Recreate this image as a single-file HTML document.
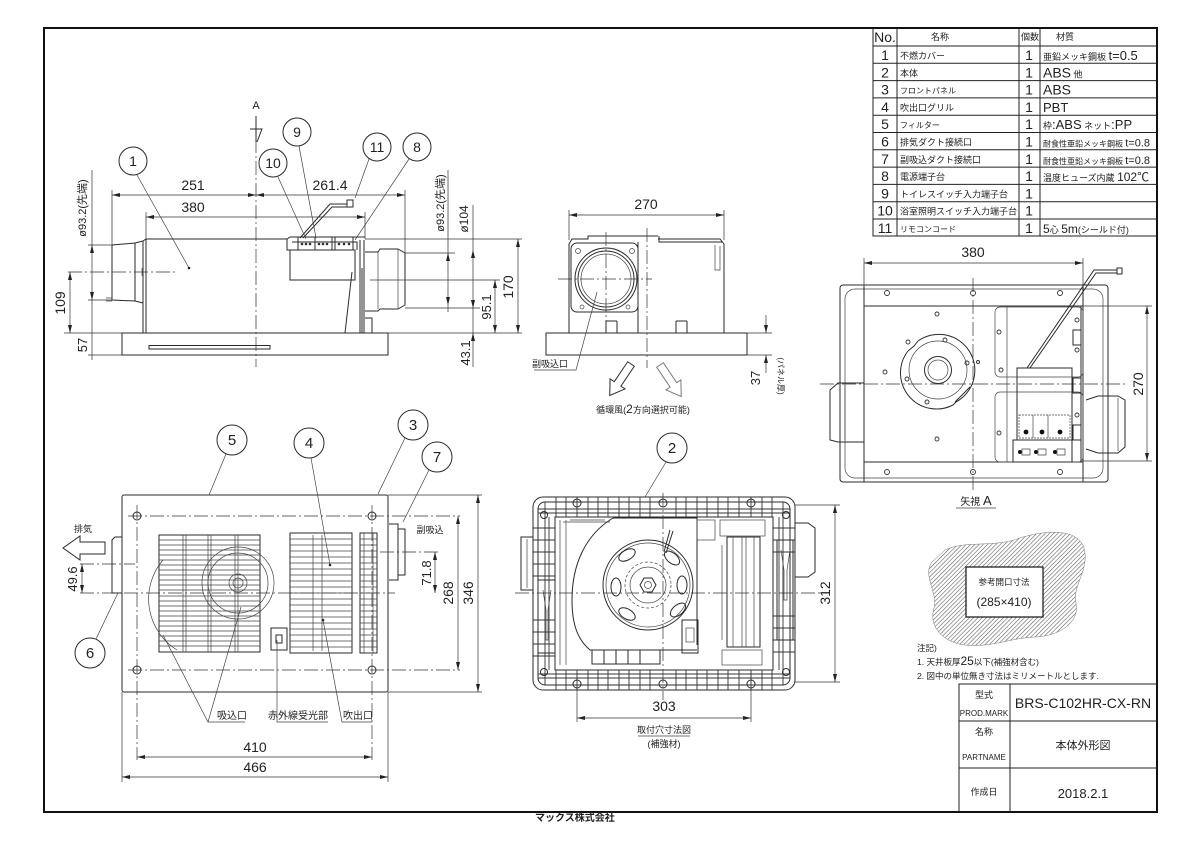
<!DOCTYPE html>
<html><head><meta charset="utf-8"><style>
html,body{margin:0;padding:0;background:#fff;}
svg{display:block;}
text{font-family:"Liberation Sans","Noto Sans CJK JP",sans-serif;fill:#222;}
.l{fill:none;stroke:#2a2a2a;stroke-width:1;}
.t{fill:none;stroke:#444;stroke-width:0.7;}
.c{fill:none;stroke:#333;stroke-width:0.7;stroke-dasharray:14 3 2 3;}
.d{fill:none;stroke:#333;stroke-width:0.7;}
</style></head><body>
<svg width="1200" height="848" viewBox="0 0 1200 848" xmlns="http://www.w3.org/2000/svg">
<defs>
<marker id="a" markerUnits="userSpaceOnUse" markerWidth="8" markerHeight="4" viewBox="0 0 8 4" refX="8" refY="2" orient="auto-start-reverse"><path d="M0 0 L8 2 L0 4z" fill="#222"/></marker>
<pattern id="h" width="3" height="3" patternUnits="userSpaceOnUse" patternTransform="rotate(45)"><line x1="0" y1="0" x2="0" y2="3" stroke="#555" stroke-width="1.1"/></pattern>
</defs>
<rect width="1200" height="848" fill="#fff"/>
<!-- frame -->
<rect x="44" y="28" width="1113" height="784" fill="none" stroke="#111" stroke-width="2"/>

<!-- ============ PARTS TABLE ============ -->
<g stroke="#222" stroke-width="1" fill="none">
<path d="M873 28 V236 H1157"/>
<path d="M897 28 V236 M1019 28 V236 M1040 28 V236"/>
<path d="M873 46 H1157 M873 63.3 H1157 M873 80.6 H1157 M873 97.9 H1157 M873 115.2 H1157 M873 132.5 H1157 M873 149.8 H1157 M873 167.1 H1157 M873 184.4 H1157 M873 201.7 H1157 M873 219 H1157"/>
</g>
<g font-size="14" text-anchor="middle">
<text x="885" y="42">No.</text>
<text x="885" y="60">1</text><text x="885" y="77.3">2</text><text x="885" y="94.6">3</text><text x="885" y="111.9">4</text><text x="885" y="129.2">5</text><text x="885" y="146.5">6</text><text x="885" y="163.8">7</text><text x="885" y="181.1">8</text><text x="885" y="198.4">9</text><text x="885" y="215.7">10</text><text x="885" y="233">11</text>
<text x="1029" y="60">1</text><text x="1029" y="77.3">1</text><text x="1029" y="94.6">1</text><text x="1029" y="111.9">1</text><text x="1029" y="129.2">1</text><text x="1029" y="146.5">1</text><text x="1029" y="163.8">1</text><text x="1029" y="181.1">1</text><text x="1029" y="198.4">1</text><text x="1029" y="215.7">1</text><text x="1029" y="233">1</text>
</g>
<g font-size="9">
<text x="940" y="40" text-anchor="middle">名称</text>
<text x="1030" y="40" text-anchor="middle">個数</text>
<text x="1065" y="40" text-anchor="middle">材質</text>
<text x="900" y="59">不燃カバー</text>
<text x="900" y="76.3">本体</text>
<text x="900" y="93.6" font-size="8">フロントパネル</text>
<text x="900" y="110.9">吹出口グリル</text>
<text x="900" y="128.2" font-size="8">フィルター</text>
<text x="900" y="145.5">排気ダクト接続口</text>
<text x="900" y="162.8">副吸込ダクト接続口</text>
<text x="900" y="180.1">電源端子台</text>
<text x="900" y="197.4">トイレスイッチ入力端子台</text>
<text x="900" y="214.7">浴室照明スイッチ入力端子台</text>
<text x="900" y="232" font-size="8">リモコンコード</text>
</g>
<g font-size="9">
<text x="1043" y="60">亜鉛メッキ鋼板 <tspan font-size="13">t=0.5</tspan></text>
<text x="1043" y="77.3"><tspan font-size="14">ABS</tspan> 他</text>
<text x="1043" y="94.6" font-size="14">ABS</text>
<text x="1043" y="111.9" font-size="13">PBT</text>
<text x="1043" y="129.2">枠<tspan font-size="13">:ABS</tspan> ネット<tspan font-size="13">:PP</tspan></text>
<text x="1043" y="146.5" font-size="8">耐食性亜鉛メッキ鋼板 <tspan font-size="11">t=0.8</tspan></text>
<text x="1043" y="163.8" font-size="8">耐食性亜鉛メッキ鋼板 <tspan font-size="11">t=0.8</tspan></text>
<text x="1043" y="181.1">温度ヒューズ内蔵 <tspan font-size="12">102℃</tspan></text>
<text x="1043" y="233"><tspan font-size="12">5</tspan>心 <tspan font-size="12">5m</tspan>(シールド付)</text>
</g>

<!-- ============ TITLE BLOCK ============ -->
<g stroke="#222" stroke-width="1" fill="none">
<path d="M959 812 V684 H1157 M1010 684 V812 M959 721 H1157 M959 768 H1157"/>
</g>
<g text-anchor="middle">
<text x="984" y="698" font-size="9">型式</text>
<text x="984" y="716" font-size="8">PROD.MARK</text>
<text x="1083" y="708" font-size="14">BRS-C102HR-CX-RN</text>
<text x="984" y="735" font-size="9">名称</text>
<text x="984" y="760" font-size="8">PARTNAME</text>
<text x="1083" y="749" font-size="11">本体外形図</text>
<text x="984" y="795" font-size="9">作成日</text>
<text x="1083" y="798" font-size="13">2018.2.1</text>
</g>
<text x="535" y="821" font-size="10" font-weight="bold">マックス株式会社</text>

<!-- ============ NOTES & HATCH ============ -->
<path d="M945 550 C965 540 995 548 1020 538 C1045 530 1078 528 1084 548 C1090 570 1072 585 1076 603 C1080 622 1060 636 1035 637 C1010 638 990 648 965 645 C945 643 928 628 934 608 C938 592 922 575 932 562 Z" fill="url(#h)" stroke="#777" stroke-width="0.5"/>
<rect x="966" y="567" width="77" height="50" fill="#fff" stroke="#111" stroke-width="1.2"/>
<text x="1004" y="585" font-size="8.5" text-anchor="middle">参考開口寸法</text>
<text x="1004" y="606" font-size="12" text-anchor="middle">(285×410)</text>
<text x="917" y="651" font-size="8.5">注記)</text>
<text x="917" y="665" font-size="8.5">1. 天井板厚<tspan font-size="12">25</tspan>以下(補強材含む)</text>
<text x="917" y="679" font-size="8.5">2. 図中の単位無き寸法はミリメートルとします.</text>

<!-- ============ VIEW 1 (side) ============ -->
<g>
<rect x="122" y="333" width="266" height="22" class="l"/>
<rect x="149" y="345.5" width="121" height="3.5" class="l"/>
<path class="l" d="M143 241 L146 239 H287 L290 237 H365 M143 241 V333 M146 239 V333 M287 239 V250 H355 V280 H290 V250"/>
<path class="l" d="M292 242 H357 V250"/>
<path class="l" d="M360 240 V333 M364 240 V333 M352 272 L345 333 M362 268 V333 M365 318 H372 V333"/>
<path class="l" d="M112 245 L135 243 L143 241 M112 245 V300 L135 301 L143 303 M135 243 V301"/>
<path class="t" d="M106 298 H112 M106 301 H112 M142 268 V276"/>
<path class="l" d="M365 252 H378 L380 249 H398 L405 253 V305 L398 309 H380 L378 311 H365"/>
<path class="t" d="M378 251 V309 M398 249 V309"/>
<!-- terminals -->
<rect x="298" y="237" width="17" height="13" class="l"/>
<rect x="315" y="237" width="17" height="13" class="l"/>
<rect x="335" y="237" width="18" height="13" class="l"/>
<g fill="#333"><circle cx="302" cy="244" r="1.3"/><circle cx="306" cy="244" r="1.3"/><circle cx="310" cy="244" r="1.3"/><circle cx="319" cy="244" r="1.3"/><circle cx="323" cy="244" r="1.3"/><circle cx="327" cy="244" r="1.3"/><circle cx="339" cy="244" r="1.3"/><circle cx="344" cy="244" r="1.3"/><circle cx="349" cy="244" r="1.3"/></g>
<path class="l" d="M300 238 L330 204 H347 M303 238 L332 207 H347"/>
<rect x="347" y="200" width="6" height="7" class="l"/>
<!-- centerlines -->
<path class="c" d="M256 117 V367 M68 272 H175"/>
<!-- dims -->
<path class="d" d="M112 190 V245 M405 190 V253 M146 212 V239 M365 212 V239"/>
<path class="d" d="M112 195 H256" marker-start="url(#a)" marker-end="url(#a)"/>
<path class="d" d="M256 195 H405" marker-start="url(#a)" marker-end="url(#a)"/>
<path class="d" d="M146 217 H365" marker-start="url(#a)" marker-end="url(#a)"/>
<text x="193" y="190" font-size="14" text-anchor="middle">251</text>
<text x="330" y="190" font-size="14" text-anchor="middle">261.4</text>
<text x="193" y="212" font-size="14" text-anchor="middle">380</text>
<path class="d" d="M88 245 H112 M88 300 H112 M64 333 H122 M88 355 H122"/>
<path class="d" d="M92 245 V300" marker-start="url(#a)" marker-end="url(#a)"/>
<path class="d" d="M92 170 V245 M92 300 V360"/>
<path class="d" d="M70 272 V333" marker-start="url(#a)" marker-end="url(#a)"/>
<text transform="translate(86 208) rotate(-90)" font-size="11" text-anchor="middle">ø93.2(先端)</text>
<text transform="translate(65 303) rotate(-90)" font-size="14" text-anchor="middle">109</text>
<text transform="translate(87 345) rotate(-90)" font-size="13" text-anchor="middle">57</text>
<!-- right dims -->
<path class="d" d="M365 239 H522 M405 253 H455 M405 308 H480 M370 280 H500 M388 333 H522"/>
<path class="d" d="M448 170 V253 M448 305 V312"/>
<path class="d" d="M448 253 V305" marker-start="url(#a)" marker-end="url(#a)"/>
<path class="d" d="M473 205 V250 M473 308 V333"/>
<path class="d" d="M473 250 V308" marker-start="url(#a)" marker-end="url(#a)"/>
<path class="d" d="M473 333 V367" marker-start="url(#a)"/>
<path class="d" d="M495 280 V333" marker-start="url(#a)" marker-end="url(#a)"/>
<path class="d" d="M518 239 V333" marker-start="url(#a)" marker-end="url(#a)"/>
<text transform="translate(444 203) rotate(-90)" font-size="11" text-anchor="middle">ø93.2(先端)</text>
<text transform="translate(468 219) rotate(-90)" font-size="12" text-anchor="middle">ø104</text>
<text transform="translate(513 287) rotate(-90)" font-size="14" text-anchor="middle">170</text>
<text transform="translate(491 307) rotate(-90)" font-size="13" text-anchor="middle">95.1</text>
<text transform="translate(470 353) rotate(-90)" font-size="13" text-anchor="middle">43.1</text>
<!-- A arrow -->
<text x="256" y="109" font-size="11" text-anchor="middle">A</text>
<path class="l" d="M256 116 V142 M250 129 H262 L257 142"/>
<!-- balloons -->
<g class="l"><circle cx="133" cy="161" r="14"/><circle cx="273" cy="163" r="14"/><circle cx="297" cy="132" r="14"/><circle cx="377" cy="147" r="14"/><circle cx="417" cy="147" r="14"/></g>
<path class="t" d="M137 175 L189 268 M278 177 L306 239 M299 146 L316 238 M369 159 L355 198 M409 159 L355 240"/>
<circle cx="189" cy="268" r="1.3" fill="#222"/>
<g font-size="14" text-anchor="middle"><text x="133" y="166">1</text><text x="273" y="168">10</text><text x="297" y="137">9</text><text x="377" y="152">11</text><text x="417" y="152">8</text></g>
</g>

<!-- ============ VIEW 2 (front) ============ -->
<g>
<path class="d" d="M569 210 V240 M724 210 V240"/>
<path class="d" d="M569 215 H724" marker-start="url(#a)" marker-end="url(#a)"/>
<text x="646" y="209" font-size="14" text-anchor="middle">270</text>
<rect x="546" y="333" width="201" height="22" class="l"/>
<path class="l" d="M569 333 V244 L572 239 H588 V236 H658 M658 239 H720 L724 244 V333"/>
<path class="l" d="M659 236 V242 H722 M638 242 V333"/>
<path class="t" d="M720 246 V270 H715 V245"/>
<rect x="571" y="243" width="67" height="69" rx="6" class="l"/>
<circle cx="606" cy="279" r="31" class="l"/>
<circle cx="606" cy="279" r="28" class="l" stroke-width="2"/>
<circle cx="606" cy="279" r="25" class="t"/>
<g class="t"><circle cx="578" cy="251" r="2.5"/><circle cx="632" cy="251" r="2.5"/><circle cx="582" cy="307" r="2"/><circle cx="628" cy="307" r="2"/></g>
<path class="l" d="M606 321 V333 M617 321 V333 M606 321 H617 M676 321 V333 M687 321 V333 M676 321 H687"/>
<path class="c" d="M647 228 V368 M606 232 V322 M558 279 H652"/>
<text x="550" y="367" font-size="9" text-anchor="middle">副吸込口</text>
<path class="t" d="M534 370 H576 L597 292"/>
<polygon points="0,-4 24,-4 24,-9 38,0 24,9 24,4 0,4" transform="translate(631 364) rotate(124)" class="l"/>
<polygon points="0,-4 24,-4 24,-9 38,0 24,9 24,4 0,4" transform="translate(660 365) rotate(56)" fill="none" stroke="#777" stroke-width="1"/>
<text x="643" y="413" font-size="9" text-anchor="middle">循環風(<tspan font-size="12">2</tspan>方向選択可能)</text>
<path class="d" d="M747 333 H772 M747 355 H772"/>
<path class="d" d="M766 315 V333" marker-end="url(#a)"/>
<path class="d" d="M766 373 V355" marker-end="url(#a)"/>
<text transform="translate(760 378) rotate(-90)" font-size="13" text-anchor="middle">37</text>
<text transform="translate(778 376) rotate(90)" font-size="8" text-anchor="middle">(パネル厚)</text>
</g>

<!-- ============ VIEW 3 (A view) ============ -->
<g>
<path class="d" d="M864 258 V305 M1083 258 V305"/>
<path class="d" d="M864 263 H1083" marker-start="url(#a)" marker-end="url(#a)"/>
<text x="973" y="257" font-size="14" text-anchor="middle">380</text>
<rect x="840" y="285" width="268" height="197" rx="3" class="l" stroke-width="1.6"/>
<rect x="845" y="289" width="258" height="189" rx="10" class="t"/>
<rect x="864" y="306" width="219" height="156" class="l"/>
<path class="l" d="M864 286 V482 M1083 286 V482"/>
<path class="l" d="M1081 306 V462" stroke-width="1.5"/>
<path class="l" d="M864 383 H838 L830 390 V440 L838 442 H864"/>
<path class="t" d="M845 385 V440"/>
<path class="l" d="M1086 400 L1098 396 H1118 L1125 400 V447 L1118 453 H1098 L1086 449"/>
<path class="t" d="M1118 398 V451"/>
<!-- fan -->
<path class="l" d="M918 341 A36 36 0 1 1 956 402 L953 405 A36 36 0 0 1 908 351"/>
<path class="l" d="M918 341 L914 346 L908 351"/>
<circle cx="938" cy="370" r="29" class="t"/>
<circle cx="938" cy="370" r="13.5" class="l"/>
<circle cx="938" cy="370" r="10" class="t"/>
<path class="l" d="M955 402 L970 387" stroke-width="1.5"/>
<!-- right side -->
<rect x="995" y="307" width="88" height="70" rx="5" class="t"/>
<rect x="995" y="392" width="88" height="70" rx="5" class="t"/>
<path class="t" d="M1007 307 V462"/>
<rect x="1017" y="368" width="55" height="72" class="l"/>
<rect x="1019" y="415" width="51" height="23" class="t" stroke-dasharray="2 1"/>
<path class="t" d="M1033 415 V438 M1048 415 V438"/>
<rect x="1013" y="440" width="59" height="22" class="l"/>
<g fill="#111"><circle cx="1026" cy="432" r="2.4"/><circle cx="1042" cy="432" r="2.4"/><circle cx="1060" cy="432" r="2.4"/><circle cx="1020" cy="452" r="2"/><circle cx="1036" cy="452" r="2"/><circle cx="1055" cy="452" r="2"/></g>
<path class="t" d="M1022 449 H1030 V455 H1022 Z M1038 449 H1046 V455 H1038 Z M1057 449 H1065 V455 H1057 Z"/>
<path class="l" d="M1073 330 H1081 V345 H1073 Z M1073 378 H1081 V393 H1073 Z M1073 425 H1081 V440 H1073 Z"/>
<path class="l" d="M1027 368 L1094 270 H1117 M1030 368 L1096 273 H1117"/>
<rect x="1117" y="268" width="5" height="6" class="l"/>
<path class="c" d="M820 384 H1125 M973 278 V490"/>
<g fill="none" stroke="#333" stroke-width="0.9">
<circle cx="887" cy="293" r="2.5"/><circle cx="973" cy="293" r="2.5"/><circle cx="1060" cy="293" r="2.5"/><circle cx="887" cy="472" r="2.5"/><circle cx="973" cy="472" r="2.5"/><circle cx="1060" cy="472" r="2.5"/>
<circle cx="937" cy="314" r="2"/><circle cx="885" cy="372" r="2"/><circle cx="937" cy="439" r="2"/><circle cx="999" cy="332" r="2"/><circle cx="1001" cy="370" r="2"/><circle cx="999" cy="433" r="2"/><circle cx="1077" cy="320" r="2"/><circle cx="1077" cy="350" r="2"/><circle cx="1077" cy="415" r="2"/><circle cx="927" cy="402" r="2"/><circle cx="908" cy="342" r="2"/><circle cx="945" cy="340" r="2"/><circle cx="967" cy="363" r="2"/><circle cx="907" cy="379" r="2"/><circle cx="978" cy="362" r="1.5"/>
</g>
<path class="d" d="M1083 306 H1152 M1083 461 H1152"/>
<path class="d" d="M1147 306 V461" marker-start="url(#a)" marker-end="url(#a)"/>
<text transform="translate(1143 384) rotate(-90)" font-size="14" text-anchor="middle">270</text>
<text x="976" y="505" font-size="10" text-anchor="middle">矢視 <tspan font-size="13">A</tspan></text>
<path class="t" d="M956 508 H996"/>
</g>

<!-- ============ VIEW 4 (front panel) ============ -->
<g>
<rect x="122" y="495" width="266" height="197" rx="2" class="l"/>
<path class="c" d="M128 516 H460 M128 670 H460 M137 505 V760 M372 505 V760 M80 593 H395"/>
<path class="c" d="M80 564 H135 M380 552 H440"/>
<g class="l"><circle cx="137" cy="516" r="4"/><circle cx="372" cy="516" r="4"/><circle cx="137" cy="670" r="4"/><circle cx="372" cy="670" r="4"/></g>
<!-- left grille -->
<rect x="159" y="535" width="101" height="117" class="l"/>
<g class="t">
<path d="M159 540 H260 M159 545 H260 M159 550 H260 M159 555 H260 M159 560 H260 M159 565 H260 M159 570 H260 M159 575 H260 M159 580 H260 M159 585 H260 M159 590 H260 M159 596 H260 M159 601 H260 M159 606 H260 M159 611 H260 M159 616 H260 M159 621 H260 M159 626 H260 M159 631 H260 M159 636 H260 M159 641 H260 M159 646 H260"/>
<path d="M183 535 V652 M186 535 V652 M208 535 V652 M211 535 V652 M235 535 V652 M238 535 V652"/>
<circle cx="238" cy="583" r="36"/><circle cx="238" cy="583" r="30"/><circle cx="238" cy="583" r="9"/><circle cx="238" cy="583" r="5"/>
<path d="M163 560 A60 60 0 0 0 177 650"/>
</g>
<!-- right grille -->
<rect x="290" y="533" width="62" height="120" class="l" stroke-width="1.6"/>
<g class="t"><path d="M290 539 H352 M290 545 H352 M290 551 H352 M290 557 H352 M290 563 H352 M290 569 H352 M290 575 H352 M290 581 H352 M290 587 H352 M290 593 H352 M290 599 H352 M290 605 H352 M290 611 H352 M290 617 H352 M290 623 H352 M290 629 H352 M290 635 H352 M290 641 H352 M290 647 H352 M313 535 V651 M322 535 V651"/></g>
<rect x="360" y="533" width="17" height="120" class="l" stroke-width="1.4"/>
<g class="t"><path d="M360 539 H377 M360 545 H377 M360 551 H377 M360 557 H377 M360 563 H377 M360 569 H377 M360 575 H377 M360 581 H377 M360 587 H377 M360 593 H377 M360 599 H377 M360 605 H377 M360 611 H377 M360 617 H377 M360 623 H377 M360 629 H377 M360 635 H377 M360 641 H377 M360 647 H377 M364 533 V653 M373 533 V653"/></g>
<rect x="271" y="628" width="16" height="22" class="l"/>
<rect x="276" y="635" width="6" height="8" class="l"/>
<circle cx="330" cy="565" r="1.3" fill="#222"/><circle cx="323" cy="620" r="1.3" fill="#222"/>
<!-- ducts -->
<path class="l" d="M122 537 H115 L112 540 V593 H122"/>
<path class="l" d="M389 524 H398 V580 H389 M398 529 H405 V575 H398"/>
<!-- exhaust -->
<polygon points="105,542 80,542 80,536 63,548 80,560 80,554 105,554" class="l"/>
<text x="83" y="532" font-size="9" text-anchor="middle">排気</text>
<text x="430" y="533" font-size="9" text-anchor="middle">副吸込</text>
<!-- dims -->
<path class="d" d="M82 564 V593" marker-start="url(#a)" marker-end="url(#a)"/>
<text transform="translate(77 579) rotate(-90)" font-size="13" text-anchor="middle">49.6</text>
<path class="d" d="M435 552 V593" marker-start="url(#a)" marker-end="url(#a)"/>
<text transform="translate(431 573) rotate(-90)" font-size="13" text-anchor="middle">71.8</text>
<path class="d" d="M388 495 H482 M388 692 H482"/>
<path class="d" d="M458 516 V670" marker-start="url(#a)" marker-end="url(#a)"/>
<path class="d" d="M478 495 V692" marker-start="url(#a)" marker-end="url(#a)"/>
<text transform="translate(453 593) rotate(-90)" font-size="14" text-anchor="middle">268</text>
<text transform="translate(473 593) rotate(-90)" font-size="14" text-anchor="middle">346</text>
<path class="d" d="M122 692 V782 M388 692 V782"/>
<path class="d" d="M137 757 H372" marker-start="url(#a)" marker-end="url(#a)"/>
<path class="d" d="M122 777 H388" marker-start="url(#a)" marker-end="url(#a)"/>
<text x="255" y="752" font-size="14" text-anchor="middle">410</text>
<text x="255" y="772" font-size="14" text-anchor="middle">466</text>
<!-- labels -->
<text x="232" y="719" font-size="10" text-anchor="middle">吸込口</text>
<text x="298" y="719" font-size="10" text-anchor="middle">赤外線受光部</text>
<text x="358" y="719" font-size="10" text-anchor="middle">吹出口</text>
<path class="t" d="M163 635 L208 722 H245 M241 607 L208 722 M277 640 V722 H328 M323 620 L342 722 H372"/>
<g class="l"><circle cx="232" cy="440" r="15"/><circle cx="309" cy="443" r="15"/><circle cx="413" cy="425" r="15"/><circle cx="437" cy="457" r="15"/><circle cx="90" cy="653" r="15"/></g>
<path class="t" d="M226 454 L209 495 M311 458 L330 565 M405 438 L378 494 M429 470 L403 522 M96 639 L118 593"/>
<g font-size="15" text-anchor="middle"><text x="232" y="445">5</text><text x="309" y="448">4</text><text x="413" y="430">3</text><text x="437" y="462">7</text><text x="90" y="658">6</text></g>
</g>

<!-- ============ VIEW 5 (body bottom) ============ -->
<g>
<circle cx="672" cy="448" r="15" class="l"/>
<text x="672" y="453" font-size="15" text-anchor="middle">2</text>
<path class="t" d="M666 462 L645 497"/>
<path class="l" d="M533 537 H521 V590 H533"/>
<path class="t" d="M527 539 V588"/>
<path class="l" d="M795 523 H808 L815 528 V572 L808 577 H795"/>
<rect x="533" y="497" width="262" height="193" rx="10" class="l" stroke-width="1.8"/>
<rect x="538" y="502" width="252" height="183" rx="7" class="l"/>
<rect x="555" y="517" width="218" height="153" class="l" stroke-width="1.3"/>
<g fill="none" stroke="#333" stroke-width="0.9">
<path d="M538 509 H790 M538 678 H790 M545 502 V685 M783 502 V685 M538 513 H790 M538 674 H790"/>
<path d="M556 497 V517 M566 497 V517 M577 497 V517 M588 497 V517 M598 497 V517 M608 497 V517 M619 497 V517 M629 497 V517 M640 497 V517 M650 497 V517 M676 497 V517 M686 497 V517 M697 497 V517 M707 497 V517 M718 497 V517 M728 497 V517 M739 497 V517 M751 497 V517 M762 497 V517 M772 497 V517"/>
<path d="M556 670 V690 M566 670 V690 M577 670 V690 M588 670 V690 M598 670 V690 M608 670 V690 M619 670 V690 M629 670 V690 M640 670 V690 M650 670 V690 M676 670 V690 M686 670 V690 M697 670 V690 M707 670 V690 M718 670 V690 M728 670 V690 M739 670 V690 M751 670 V690 M762 670 V690 M772 670 V690"/>
<path d="M533 528 H555 M533 540 H555 M533 552 H555 M533 564 H555 M533 576 H555 M533 620 H555 M533 632 H555 M533 644 H555 M533 656 H555 M773 528 H795 M773 540 H795 M773 552 H795 M773 616 H795 M773 628 H795 M773 640 H795 M773 652 H795"/>
<path d="M549 517 V670 M779 517 V670"/>
</g>
<g class="l"><circle cx="577" cy="503" r="4"/><circle cx="663" cy="503" r="4"/><circle cx="751" cy="503" r="4"/><circle cx="577" cy="684" r="4"/><circle cx="663" cy="684" r="4"/><circle cx="751" cy="684" r="4"/><circle cx="544" cy="515" r="3.5"/><circle cx="786" cy="515" r="3.5"/><circle cx="544" cy="672" r="3.5"/><circle cx="786" cy="672" r="3.5"/></g>
<!-- scroll casing -->
<path class="l" d="M613 518 H697 V645 M613 518 C585 535 572 565 572 600 C572 625 578 640 590 650 H697"/>
<path class="t" d="M560 520 V665 M566 520 V665 M570 520 L605 520 M563 522 H610"/>
<path class="l" d="M592 650 H660 V664 H592 Z M604 650 V664 M616 650 V664 M628 650 V664 M640 650 V664"/>
<circle cx="648" cy="585" r="45" class="l"/>
<circle cx="648" cy="585" r="42" class="t"/>
<circle cx="648" cy="585" r="23" class="t" stroke-dasharray="3 2"/>
<circle cx="648" cy="585" r="18" class="t"/>
<polygon points="656,585 652,592 644,592 640,585 644,578 652,578" class="l"/>
<circle cx="648" cy="585" r="3.5" class="t"/>
<g class="l">
<ellipse cx="627" cy="555" rx="9" ry="5" transform="rotate(-30 627 555)"/>
<ellipse cx="672" cy="558" rx="9" ry="5" transform="rotate(40 672 558)"/>
<ellipse cx="678" cy="610" rx="9" ry="5" transform="rotate(-40 678 610)"/>
<ellipse cx="627" cy="614" rx="9" ry="5" transform="rotate(30 627 614)"/>
<ellipse cx="616" cy="587" rx="5" ry="9"/>
<ellipse cx="682" cy="585" rx="5" ry="9"/>
</g>
<path class="l" d="M664 552 L670 530 M666 553 L673 531"/>
<rect x="682" y="620" width="16" height="33" class="l"/>
<rect x="686" y="628" width="8" height="14" class="t"/>
<rect x="727" y="537" width="33" height="110" class="l"/>
<g class="t"><path d="M733 537 V647 M742 537 V647 M746 537 V647 M754 537 V647 M722 545 V640"/></g>
<rect x="720" y="520" width="45" height="16" class="t"/>
<rect x="722" y="650" width="40" height="15" class="t"/>
<rect x="697" y="520" width="18" height="20" class="t"/>
<path class="l" d="M538 580 H555 V653 H538 Z M777 540 H793 V640 H777 Z"/>
<path class="t" d="M543 590 L546 610 V640 H548 V610 L551 590 M781 550 L784 570 V600 H787 V570 L790 550"/>
<path class="c" d="M515 593 H830 M663 493 V700"/>
<path class="d" d="M795 505 H840 M795 682 H840"/>
<path class="d" d="M835 505 V682" marker-start="url(#a)" marker-end="url(#a)"/>
<text transform="translate(830 593) rotate(-90)" font-size="14" text-anchor="middle">312</text>
<path class="d" d="M577 690 V722 M751 690 V722"/>
<path class="d" d="M577 718 H751" marker-start="url(#a)" marker-end="url(#a)"/>
<text x="664" y="711" font-size="14" text-anchor="middle">303</text>
<text x="664" y="733" font-size="9" text-anchor="middle">取付穴寸法図</text>
<path class="t" d="M638 736 H690"/>
<text x="664" y="747" font-size="9" text-anchor="middle">(補強材)</text>
</g>
</svg>
</body></html>
